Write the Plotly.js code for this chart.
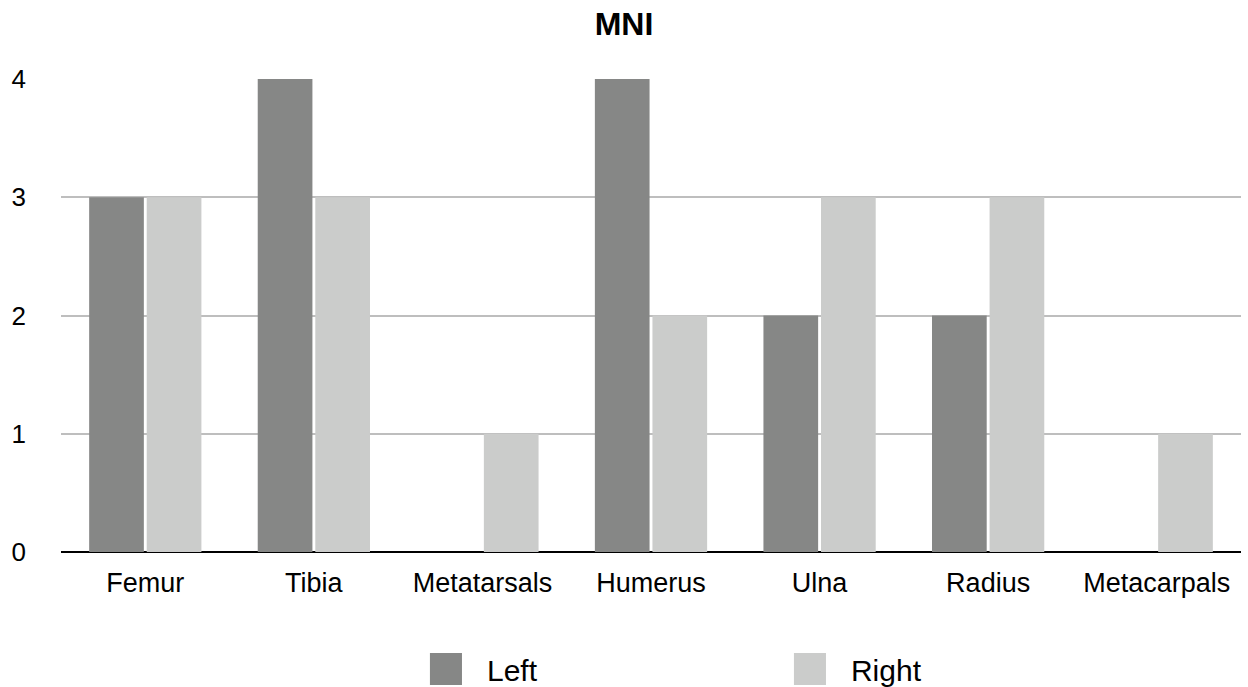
<!DOCTYPE html>
<html>
<head>
<meta charset="utf-8">
<script src="https://cdn.plot.ly/plotly-3.0.1.min.js"></script>
<style>html,body{margin:0;padding:0;background:#fff;}#chart{width:1248px;height:687px;}</style>
</head>
<body>
<div id="chart"></div>
<script>
const categories = ["Femur", "Tibia", "Metatarsals", "Humerus", "Ulna", "Radius", "Metacarpals"];
const leftValues = [3, 4, 0, 4, 2, 2, 0];
const rightValues = [3, 3, 1, 2, 3, 3, 1];
const yTicks = [0, 1, 2, 3, 4];
const leftColor = "#868786";
const rightColor = "#cbcccb";
const FONT = "Liberation Sans, Arial, Helvetica, sans-serif";

const traces = [
  {type: "bar", name: "Left", x: categories, y: leftValues, marker: {color: leftColor}, hoverinfo: "x+y+name"},
  {type: "bar", name: "Right", x: categories, y: rightValues, marker: {color: rightColor}, hoverinfo: "x+y+name"}
];

const layout = {
  width: 1248, height: 687,
  paper_bgcolor: "#ffffff", plot_bgcolor: "#ffffff",
  font: {family: FONT, color: "#000000", size: 26},
  title: {text: "<b>MNI</b>", font: {family: FONT, size: 32, color: "#000"}, x: 0.5, xanchor: "center", xref: "container", y: 0.982, yanchor: "top", yref: "container"},
  margin: {l: 61, r: 7, t: 79, b: 135},
  barmode: "group", bargap: 0.317, bargroupgap: 0.05,
  xaxis: {
    type: "category", tickvals: categories, ticktext: categories,
    showgrid: false, showline: false, zeroline: false, ticks: "",
    tickfont: {family: FONT, size: 27, color: "#000"}, ticklabelstandoff: 12
  },
  yaxis: {
    range: [0, 4], tickvals: yTicks, ticktext: yTicks.map(String),
    showgrid: true, gridcolor: "#bebebe", gridwidth: 2,
    zeroline: true, zerolinecolor: "#000000", zerolinewidth: 2,
    showline: false, ticks: "",
    tickfont: {family: FONT, size: 26, color: "#000"}, ticklabelstandoff: 34
  },
  showlegend: true,
  legend: {
    orientation: "h", xref: "container", yref: "container",
    x: 0.3365, xanchor: "left", y: 0.0262, yanchor: "middle",
    font: {family: FONT, size: 30, color: "#000"},
    entrywidth: 319, entrywidthmode: "pixels", itemwidth: 30,
    bgcolor: "rgba(0,0,0,0)", traceorder: "normal"
  }
};

Plotly.newPlot("chart", traces, layout, {displayModeBar: false, staticPlot: true}).then(function (gd) {
  // enlarge legend swatches to match the reference square markers
  document.querySelectorAll("#chart .legend .traces").forEach(function (t) {
    const p = t.querySelector(".legendpoints path");
    if (p) p.setAttribute("transform", "translate(26,0) scale(2.67)");
    const txt = t.querySelector(".legendtext");
    if (txt) txt.setAttribute("x", "67");
  });
});
</script>
</body>
</html>
